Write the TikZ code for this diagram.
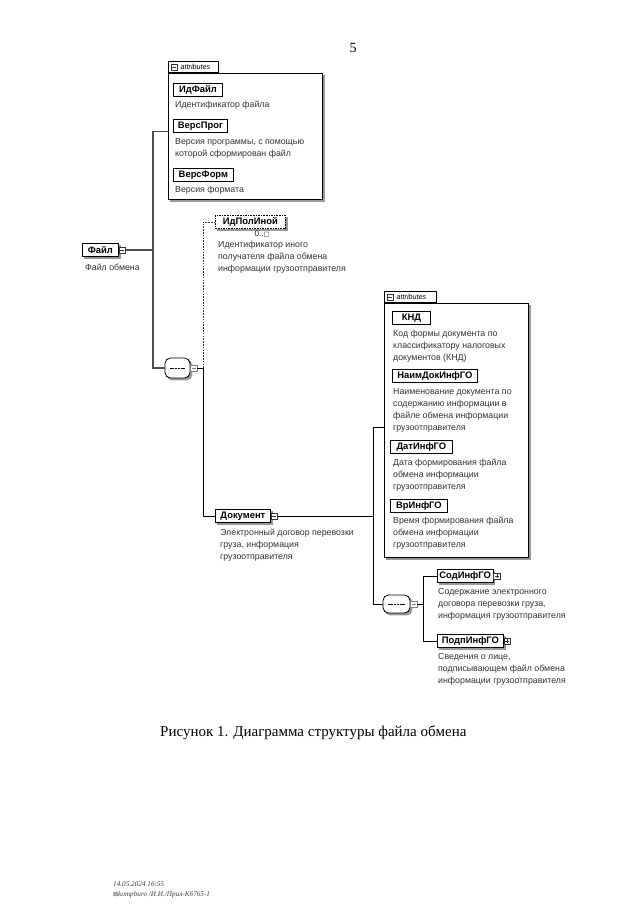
\documentclass[tikz,border=0pt]{standalone}
\usepackage{fontspec}
\setmainfont{Liberation Serif}
\newfontfamily\arial{Liberation Sans}
\newfontfamily\dejavu{DejaVu Sans}
\usetikzlibrary{backgrounds}
\tikzset{
  elem/.style={draw=black, line width=0.8pt, fill=white,
    font=\arial\bfseries\fontsize{9.4}{10}\selectfont,
    inner xsep=2pt, inner ysep=0pt, minimum height=13.5pt, anchor=west},
  optelem/.style={elem, dash pattern=on 1.6pt off 1pt, line width=0.8pt},
  desc/.style={anchor=north west, inner sep=0pt, align=left,
    font=\arial\fontsize{8.8}{12}\selectfont, text=black!80},
  pmbox/.style={draw=black!80, fill=white, minimum size=6.5pt, inner sep=0pt, anchor=west, line width=0.5pt},
  pmminus/.style={pmbox, path picture={\draw[line width=0.5pt]
      ([xshift=1.2pt]path picture bounding box.west) -- ([xshift=-1.2pt]path picture bounding box.east);}},
  pmplus/.style={pmbox, path picture={\draw[line width=0.5pt]
      ([xshift=1.2pt]path picture bounding box.west) -- ([xshift=-1.2pt]path picture bounding box.east)
      ([yshift=1.2pt]path picture bounding box.south) -- ([yshift=-1.2pt]path picture bounding box.north);}},
  attrbox/.style={draw=black, line width=0.7pt, fill=white, anchor=north west, inner sep=0pt},
  attrtab/.style={draw=black, line width=0.7pt, fill=white, anchor=south west, inner sep=0pt,
    minimum height=11pt},
  tabtext/.style={anchor=west, inner sep=0pt, font=\arial\itshape\fontsize{7.2}{8}\selectfont},
  seqnode/.style={rectangle, rounded corners=5.5pt,
    draw=black, line width=0.8pt, fill=white, inner sep=0pt,
    path picture={\draw[line width=0.7pt]
      ([xshift=5pt]path picture bounding box.west) -- ([xshift=-5pt]path picture bounding box.east);
      \fill (path picture bounding box.center) circle (0.9pt)
            ([xshift=-3pt]path picture bounding box.center) circle (0.9pt)
            ([xshift=3pt]path picture bounding box.center) circle (0.9pt);}},
  shadowfill/.style={fill=black!40, draw=none},
  conn/.style={line width=0.7pt, black},
  busconn/.style={line width=1.1pt, black!70},
  optconn/.style={line width=0.7pt, black!80, dash pattern=on 1.6pt off 1.2pt},
}
\newcommand{\shadowbox}[2][2]{%
  \fill[shadowfill] ([xshift=#1pt,yshift=-#1pt]#2.south west) rectangle ([xshift=#1pt,yshift=-#1pt]#2.north east);}
\begin{document}
\begin{tikzpicture}[x=1pt,y=-1pt]
\useasboundingbox (0,0) rectangle (640,924);

\node[font=\fontsize{14}{16}\selectfont] (pg) at (353,48) {5};

% ---------- attributes of Файл ----------
\node[attrbox, minimum width=154pt, minimum height=126pt] (attrA) at (168,73) {};
\node[attrtab, minimum width=50pt] (tabA) at (attrA.north west) {};
\node[pmminus, anchor=west] (tabAm) at ([xshift=2.5pt]tabA.west) {};
\node[tabtext] (tabAt) at ([xshift=3pt]tabAm.east) {attributes};

\node[elem, minimum width=49pt] (idfile) at (173,90) {ИдФайл};
\node[desc] (didfile) at (175,101) {Идентификатор файла};
\node[elem, minimum width=54pt] (versprog) at (173,126) {ВерсПрог};
\node[desc] (dversprog) at (175,138) {Версия программы, с помощью\\которой сформирован файл};
\node[elem, minimum width=60pt] (versform) at (173,175) {ВерсФорм};
\node[desc] (dversform) at (175,186) {Версия формата};

% ---------- Файл ----------
\node[elem, minimum width=36pt] (file) at (82,250) {Файл};
\node[pmminus] (filem) at (file.east) {};
\node[desc] (dfile) at (85,264) {Файл обмена};

% ---------- sequence 1 ----------
\node[seqnode, minimum width=25pt, minimum height=20pt] (seq1) at (177.5,368) {};
\node[pmminus, draw=black!50] (seq1m) at (seq1.east) {};
\coordinate (v1) at (203,368);

% ---------- ИдПолИной ----------
\node[optelem, minimum width=70pt] (idpol) at (215,222) {ИдПолИной};
\node[anchor=north east, inner sep=0pt, font=\arial\fontsize{8.2}{9}\selectfont, text=black!85] (idpolocc) at (270,231) {0..{\dejavu\fontsize{6.5}{7}\selectfont □}};
\node[desc] (didpol) at (218,240.5) {Идентификатор иного\\получателя файла обмена\\информации грузоотправителя};

% ---------- Документ ----------
\node[elem, minimum width=55pt] (doc) at (215,516) {Документ};
\node[pmminus] (docm) at (doc.east) {};
\node[desc] (ddoc) at (220,529) {Электронный договор перевозки\\груза, информация\\грузоотправителя};
\coordinate (jdoc) at (373,516);

% ---------- attributes of Документ ----------
\node[attrbox, minimum width=144pt, minimum height=254pt] (attrB) at (384,303) {};
\node[attrtab, minimum width=52pt] (tabB) at (attrB.north west) {};
\node[pmminus, anchor=west] (tabBm) at ([xshift=2.5pt]tabB.west) {};
\node[tabtext] (tabBt) at ([xshift=3pt]tabBm.east) {attributes};

\node[elem, minimum width=38pt] (knd) at (392,318) {КНД};
\node[desc] (dknd) at (393,330) {Код формы документа по\\классификатору налоговых\\документов (КНД)};
\node[elem, minimum width=85pt] (naim) at (392,376) {НаимДокИнфГО};
\node[desc] (dnaim) at (393,388) {Наименование документа по\\содержанию информации в\\файле обмена информации\\грузоотправителя};
\node[elem, minimum width=62pt] (dat) at (390,447) {ДатИнфГО};
\node[desc] (ddat) at (393,459) {Дата формирования файла\\обмена информации\\грузоотправителя};
\node[elem, minimum width=57pt] (vr) at (390,506) {ВрИнфГО};
\node[desc] (dvr) at (393,517) {Время формирования файла\\обмена информации\\грузоотправителя};

% ---------- sequence 2 ----------
\node[seqnode, minimum width=27pt, minimum height=18pt] (seq2) at (396.5,604) {};
\node[pmminus, draw=black!50] (seq2m) at (seq2.east) {};
\coordinate (v3) at (423,604);

\node[elem, minimum width=53pt] (sod) at (437,576) {СодИнфГО};
\node[pmplus] (sodp) at (sod.east) {};
\node[desc] (dsod) at (438,588) {Содержание электронного\\договора перевозки груза,\\информация грузоотправителя};
\node[elem, minimum width=66pt] (podp) at (437,641) {ПодпИнфГО};
\node[pmplus] (podpp) at (podp.east) {};
\node[desc] (dpodp) at (438,653) {Сведения о лице,\\подписывающем файл обмена\\информации грузоотправителя};

% ---------- connectors ----------
\draw[busconn] ([yshift=5pt]attrA.west) -- ++(-15,0) |- (seq1.west);
\draw[busconn] (filem.east) -- ++(28,0);
\draw[conn] (seq1m.east) -- (v1);
\draw[optconn] (v1) |- (idpol.west);
\draw[conn] (v1) |- (doc.west);
\draw[conn] (docm.east) -- (jdoc);
\draw[conn] ([yshift=3pt]attrB.west) -- ++(-11,0) |- (seq2.west);
\draw[conn] (seq2m.east) -- (v3);
\draw[conn] (v3) |- (sod.west);
\draw[conn] (v3) |- (podp.west);

% ---------- shadows (behind) ----------
\begin{scope}[on background layer]
  \fill[white] (0,0) rectangle (640,924);
  \shadowbox[2.2]{attrA}
  \fill[shadowfill] ([xshift=1.8pt]tabA.south east) rectangle ([xshift=1.8pt,yshift=-1.8pt]tabA.north east);
  \shadowbox[2.2]{attrB}
  \fill[shadowfill] ([xshift=1.8pt]tabB.south east) rectangle ([xshift=1.8pt,yshift=-1.8pt]tabB.north east);
  \shadowbox{idfile}\shadowbox{versprog}\shadowbox{versform}
  \shadowbox{file}\shadowbox{doc}\shadowbox{idpol}
  \shadowbox{knd}\shadowbox{naim}\shadowbox{dat}\shadowbox{vr}
  \shadowbox{sod}\shadowbox{podp}
  \fill[shadowfill, rounded corners=5.5pt] ([xshift=2pt,yshift=-2pt]seq1.south west) rectangle ([xshift=2pt,yshift=-2pt]seq1.north east);
  \fill[shadowfill, rounded corners=5.5pt] ([xshift=2pt,yshift=-2pt]seq2.south west) rectangle ([xshift=2pt,yshift=-2pt]seq2.north east);
\end{scope}

% ---------- caption and footer ----------
\node[anchor=west, inner sep=0pt, font=\fontsize{15}{18}\selectfont] (caption) at (160,733) {Рисунок 1. Диаграмма структуры файла обмена};
\node[anchor=north west, inner sep=0pt, align=left, font=\itshape\fontsize{7.2}{9.5}\selectfont, text=black!75] (footer) at (113,882)
  {14.05.2024 16:55\\{\dejavu\upshape\fontsize{6}{8}\selectfont ⊠}kompburo /И.И./Прил-К6765-1};
\end{tikzpicture}
\end{document}
